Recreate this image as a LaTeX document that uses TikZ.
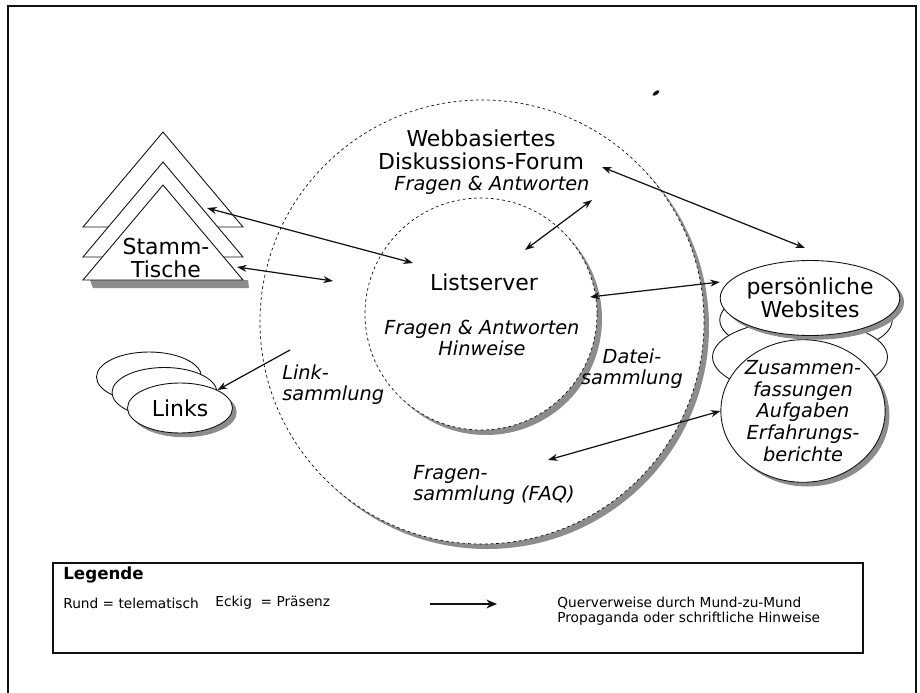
\documentclass[tikz,border=0pt]{standalone}
\usepackage{fontspec}
\setmainfont{DejaVu Sans}
\usetikzlibrary{arrows.meta, calc, positioning, shapes.geometric, shadows}
\definecolor{ln}{HTML}{111111}
\definecolor{shd}{HTML}{8c8c8c}

\tikzset{
    lbl/.style={font=\fontsize{12.5}{13}\selectfont, align=center, inner sep=0pt},
    itl/.style={font=\itshape\fontsize{11}{12}\selectfont, inner sep=0pt},
    leg/.style={font=\fontsize{7.8}{8.6}\selectfont, inner sep=0pt, anchor=west},
    ring/.style={draw=ln, line width=0.4pt, dash pattern=on 1.6pt off 1.6pt},
    blob/.style={ellipse, draw=ln, fill=white, line width=0.5pt, inner sep=0pt},
    shadowed/.style={drop shadow={shadow xshift=2.4pt, shadow yshift=-2.4pt, fill=shd, opacity=1}},
    ref/.style={{Stealth[length=5.5pt,width=4pt]}-{Stealth[length=5.5pt,width=4pt]}, line width=0.7pt, draw=ln}
}

\begin{document}
\begin{tikzpicture}[x=0.02cm, y=-0.02cm]
	\useasboundingbox (0,0) rectangle (920,693);
	\def\rf{222}
	\def\rl{116}
	
	% Rahmen
	\draw[ln, line width=0.9pt] (8,693) -- (8,6) -- (916,6) -- (916,693);
	
	% Forum und Listserver
	\coordinate (F) at (482,322);
	\coordinate (L) at (481,314);
	\fill[shd] ($(F)+(5,5)$) circle [radius=\rf];
	\filldraw[fill=white, ring] (F) circle [radius=\rf];
	\fill[shd] ($(L)+(5,5)$) circle [radius=\rl];
	\filldraw[fill=white, ring] (L) circle [radius=\rl];
	
	\node[lbl] (forum) at (481,150) {Webbasiertes\\Diskussions-Forum};
	\node[itl] (forumfa) at (492,185) {Fragen \& Antworten};
	\node[lbl] (list) at (484,282) {Listserver};
	\node[itl, align=center] (listfa) at (482,338) {Fragen \& Antworten\\Hinweise};
	\node[itl, align=center] (datei) at (632,369) {Datei-\\sammlung};
	\node[itl, align=left, anchor=west] (linksam) at (282,385) {Link-\\sammlung};
	\node[itl, align=left, anchor=west] (faq) at (413,485) {Fragen-\\sammlung (FAQ)};
	
	% Stammtische
	\fill[shd] (90,280) -- (248,280) -- (249,288) -- (93,288) -- cycle;
	\foreach \o in {53,23,0}{
		\filldraw[fill=white, draw=ln, line width=0.5pt] (83,280-\o) -- (243,280-\o) -- (163,185-\o) -- cycle;
	}
	\node[lbl] (stamm) at (166,258) {Stamm-\\Tische};
	
	% Links
	\foreach \k in {2,1}{
		\node[blob, minimum width=2.1cm, minimum height=1cm] (lk\k) at (180-15.5*\k,408-15.5*\k) {};
	}
	\node[blob, shadowed, lbl, minimum width=2.1cm, minimum height=1cm] (links) at (180,408) {Links};
	
	% Websites
	\node[blob, minimum width=3.45cm, minimum height=1.4cm] (ws1) at (806,320) {};
	\node[blob, minimum width=3.5cm, minimum height=1.48cm] (ws2) at (800,357) {};
	\node[blob, shadowed, lbl, minimum width=3.52cm, minimum height=1.5cm] (websites) at (810,298) {persönliche\\Websites};
	\node[blob, shadowed, itl, align=center, minimum width=3.08cm, minimum height=2.56cm,
		font=\itshape\fontsize{11}{12.3}\selectfont] (zusammen) at (803,411)
		{Zusammen-\\fassungen\\Aufgaben\\Erfahrungs-\\berichte};
	
	% Querverweise
	\coordinate (st1) at (207,208);
	\coordinate (st2) at (237,267);
	\coordinate (li1) at (413,263);
	\coordinate (li2) at (333,281);
	\coordinate (li3) at (525,250);
	\coordinate (li4) at (590,297);
	\coordinate (fo1) at (592,200);
	\coordinate (fo2) at (602,167);
	\coordinate (ws) at (805,248);
	\coordinate (fq) at (548,460);
	\coordinate (ls) at (290,350);
	\draw[ref] (st1) -- (li1);
	\draw[ref] (st2) -- (li2);
	\draw[ref] (li3) -- (fo1);
	\draw[ref] (fo2) -- (ws);
	\draw[ref] (li4) -- (websites.west |- 0,282);
	\draw[ref] (fq) -- (zusammen.west);
	\draw[ref, {}-{Stealth[length=5.5pt,width=4pt]}] (ls) -- (links.north east);
	
%	\fill[ln] (100,91) circle [radius=0.7];
	\fill[ln, rotate around={35:(656,93)}] (656,93) ellipse [x radius=4, y radius=1.8];
	
	% Legende
	\draw[ln, line width=0.6pt] (53,563) rectangle (863,653);
	\node[font=\bfseries\fontsize{9.5}{11}\selectfont, anchor=west, inner sep=0pt] (legtitle) at (63,575) {Legende};
	\node[leg] (rund) at (63,603) {Rund = telematisch};
	\node[leg] (eckig) at (215,603) {Eckig \ = Präsenz};
	\coordinate (la) at (430,604);
	\coordinate (lb) at (497,604);
	\draw[ln, line width=1.2pt, -{Stealth[length=6pt,width=5pt]}] (la) -- (lb);
	\node[leg, align=left] (querv) at (557,611) {Querverweise durch Mund-zu-Mund\\Propaganda oder schriftliche Hinweise};
\end{tikzpicture}
\end{document}
